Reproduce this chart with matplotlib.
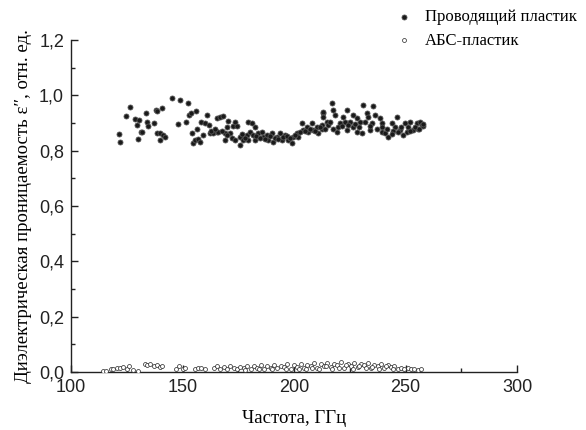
import matplotlib
matplotlib.use("Agg")
import matplotlib.pyplot as plt
from matplotlib.ticker import MultipleLocator, FuncFormatter

# Проводящий пластик (conductive plastic)
cond_f = [121.7, 122.0, 124.7, 126.5, 128.7, 129.5, 130.2, 130.6, 131.3, 132.0,
          133.5, 133.9, 134.7, 137.4, 138.1, 138.4, 138.4, 139.9, 139.9, 140.7,
          141.4, 142.2, 145.1, 148.1, 148.9, 151.6, 152.6, 153.1, 153.7, 154.1,
          154.8, 155.6, 156.1, 156.6, 157.1, 157.8, 158.2, 159.3, 160.1, 160.8,
          162.0, 162.3, 163.8, 165.6, 165.6, 166.1, 166.8, 168.3, 169.1, 169.1,
          169.8, 170.5, 171.3, 172.1, 172.8, 173.5, 173.5, 174.3, 175.8, 175.8,
          177.3, 178.8, 179.5, 179.5, 180.3, 181.3, 181.8, 182.5, 182.5, 184.0,
          185.5, 186.2, 187.8, 188.5, 190.0, 190.7, 192.2, 193.7, 194.5, 196.0,
          197.4, 199.0, 199.7, 201.2, 201.9, 203.4, 204.2, 205.7, 206.4, 207.9,
          208.7, 210.2, 210.9, 212.4, 212.4, 213.1, 213.1, 213.1, 214.6, 215.4,
          216.9, 217.6, 217.6, 218.4, 219.1, 220.6, 222.1, 222.9, 223.6, 223.6,
          225.1, 226.6, 226.6, 228.1, 228.1, 229.6, 230.4, 231.1, 231.8, 232.6,
          233.3, 234.1, 234.8, 235.6, 236.3, 238.6, 239.3, 239.3, 239.3, 240.8,
          242.3, 243.8, 245.3, 246.0, 247.5, 249.0, 249.8, 250.5, 251.3, 252.0,
          253.5, 255.0, 255.7, 256.5, 257.2,
          163.0, 164.5, 167.5, 170.0, 176.5, 178.0, 183.0, 184.8, 186.9, 189.2,
          191.5, 193.0, 195.2, 196.8, 198.2, 200.5, 202.6, 205.0, 207.0, 209.5,
          211.5, 214.0, 216.0, 219.8, 221.4, 224.3, 227.3, 229.0, 233.9, 237.0,
          241.5, 244.5, 246.8, 248.2, 251.9, 254.2, 256.0, 257.8, 258.0, 244.0]
cond_v = [0.859, 0.832, 0.925, 0.959, 0.913, 0.891, 0.841, 0.911, 0.868, 0.867,
          0.935, 0.905, 0.889, 0.899, 0.947, 0.944, 0.865, 0.863, 0.838, 0.956,
          0.857, 0.850, 0.989, 0.895, 0.983, 0.905, 0.973, 0.929, 0.937, 0.865,
          0.826, 0.838, 0.943, 0.877, 0.841, 0.832, 0.902, 0.857, 0.899, 0.929,
          0.893, 0.863, 0.865, 0.868, 0.917, 0.868, 0.923, 0.925, 0.863, 0.838,
          0.887, 0.908, 0.863, 0.844, 0.889, 0.905, 0.838, 0.889, 0.850, 0.820,
          0.838, 0.857, 0.905, 0.838, 0.868, 0.899, 0.857, 0.887, 0.838, 0.863,
          0.868, 0.850, 0.857, 0.838, 0.863, 0.832, 0.850, 0.863, 0.838, 0.857,
          0.838, 0.826, 0.850, 0.863, 0.850, 0.899, 0.875, 0.887, 0.868, 0.899,
          0.875, 0.887, 0.863, 0.893, 0.880, 0.935, 0.941, 0.923, 0.905, 0.893,
          0.973, 0.947, 0.880, 0.929, 0.868, 0.899, 0.923, 0.905, 0.947, 0.875,
          0.905, 0.929, 0.887, 0.917, 0.868, 0.905, 0.863, 0.965, 0.905, 0.935,
          0.923, 0.875, 0.899, 0.961, 0.929, 0.917, 0.899, 0.887, 0.868, 0.863,
          0.850, 0.899, 0.887, 0.923, 0.875, 0.857, 0.899, 0.868, 0.887, 0.905,
          0.875, 0.899, 0.880, 0.905, 0.893,
          0.872, 0.880, 0.872, 0.855, 0.862, 0.846, 0.852, 0.846, 0.843, 0.853,
          0.845, 0.842, 0.848, 0.852, 0.846, 0.858, 0.866, 0.872, 0.880, 0.870,
          0.884, 0.878, 0.902, 0.885, 0.890, 0.893, 0.898, 0.884, 0.890, 0.880,
          0.878, 0.872, 0.866, 0.884, 0.872, 0.884, 0.878, 0.888, 0.898, 0.862]

# АБС-пластик (ABS plastic)
abs_f = [114.5, 115.5, 118.0, 119.0, 120.5, 122.0, 123.5, 125.0, 126.0, 128.0,
         130.0, 133.0, 134.0, 135.5, 137.0, 138.5, 140.0, 141.0, 147.0, 148.5,
         150.0, 151.0, 155.5, 157.0, 158.5, 160.0, 164.0, 165.5, 167.0, 168.5,
         170.0, 171.5, 173.0, 174.5, 176.0, 177.5, 179.0, 180.5, 182.0, 183.5,
         185.0, 186.5, 188.0, 189.5, 191.0, 192.5, 194.0, 195.5, 197.0, 198.5,
         200.0, 201.5, 203.0, 204.5, 206.0, 207.5, 209.0, 210.5, 212.0, 213.5,
         215.0, 216.5, 218.0, 219.5, 221.0, 222.5, 224.0, 225.5, 227.0, 228.5,
         230.0, 231.5, 233.0, 234.5, 236.0, 237.5, 239.0, 240.5, 242.0, 243.5,
         245.0, 246.5, 248.0, 249.5, 251.0, 252.5, 254.0, 255.5, 257.0,
         202.2, 205.3, 208.1, 211.2, 214.3, 217.2, 220.2, 223.1, 226.3, 229.2,
         232.3, 235.2, 238.1, 241.2, 244.2, 196.2, 190.2, 184.3, 178.2]
abs_v = [0.004, 0.004, 0.012, 0.010, 0.013, 0.014, 0.018, 0.012, 0.022, 0.008,
         0.004, 0.028, 0.024, 0.030, 0.020, 0.026, 0.018, 0.022, 0.012, 0.020,
         0.010, 0.016, 0.010, 0.014, 0.016, 0.012, 0.014, 0.020, 0.010, 0.018,
         0.012, 0.022, 0.016, 0.010, 0.018, 0.014, 0.022, 0.012, 0.020, 0.016,
         0.024, 0.012, 0.020, 0.016, 0.026, 0.014, 0.022, 0.018, 0.028, 0.012,
         0.024, 0.018, 0.030, 0.014, 0.026, 0.020, 0.032, 0.016, 0.028, 0.022,
         0.034, 0.018, 0.030, 0.024, 0.036, 0.016, 0.030, 0.022, 0.034, 0.018,
         0.028, 0.024, 0.032, 0.016, 0.026, 0.020, 0.028, 0.014, 0.024, 0.018,
         0.020, 0.012, 0.016, 0.010, 0.014, 0.010, 0.012, 0.008, 0.010,
         0.010, 0.012, 0.014, 0.010, 0.022, 0.012, 0.016, 0.026, 0.012, 0.020,
         0.014, 0.018, 0.010, 0.020, 0.012, 0.010, 0.012, 0.010, 0.008]

label_cond = "Проводящий пластик"
label_abs = "АБС-пластик"
xlabel = "Частота, ГГц"
ylabel = "Диэлектрическая проницаемость ε″, отн. ед."

fig = plt.figure(figsize=(5.86, 4.30), dpi=100)
ax = fig.add_axes([71/586, 1 - 372/430, (517-71)/586, (372-40)/430])

h1 = ax.scatter(cond_f, cond_v, s=13, facecolor="#1a1a1a", edgecolor="#555555",
                linewidths=0.6, label=label_cond, zorder=3)
h2 = ax.scatter(abs_f, abs_v, s=8, facecolor="white", edgecolor="#222222",
                linewidths=0.5, label=label_abs, zorder=3)

ax.set_xlim(100, 300)
ax.set_ylim(0, 1.2)
ax.xaxis.set_major_locator(MultipleLocator(50))
ax.xaxis.set_minor_locator(MultipleLocator(25))
ax.yaxis.set_major_locator(MultipleLocator(0.2))
ax.yaxis.set_minor_locator(MultipleLocator(0.1))
ax.yaxis.set_major_formatter(FuncFormatter(lambda v, p: f"{v:.1f}".replace(".", ",")))
ax.spines["top"].set_visible(False)
ax.spines["right"].set_visible(False)
for s in ("left", "bottom"):
    ax.spines[s].set_linewidth(1.0)
    ax.spines[s].set_color("#222222")
ax.tick_params(which="both", direction="in", colors="#222222", width=1.0)
ax.tick_params(which="major", length=5)
ax.tick_params(which="minor", length=3)
for lab in ax.get_xticklabels() + ax.get_yticklabels():
    lab.set_fontfamily("Liberation Sans")
    lab.set_fontsize(13)
ax.tick_params(axis="x", pad=5)
ax.tick_params(axis="y", pad=5)

ax.set_xlabel(xlabel, fontfamily="Liberation Serif", fontsize=13.5, labelpad=10)
ax.set_ylabel(ylabel, fontfamily="Liberation Serif", fontsize=13.5, labelpad=5)

leg = fig.legend(handles=[h1, h2], loc="upper left",
                 bbox_to_anchor=(392/586, 1 - 6/430), frameon=False,
                 prop={"family": "Liberation Serif", "size": 12},
                 handletextpad=0.8, labelspacing=0.45, handlelength=1.0,
                 borderaxespad=0, borderpad=0.2)

fig.savefig("out.png", dpi=100)
